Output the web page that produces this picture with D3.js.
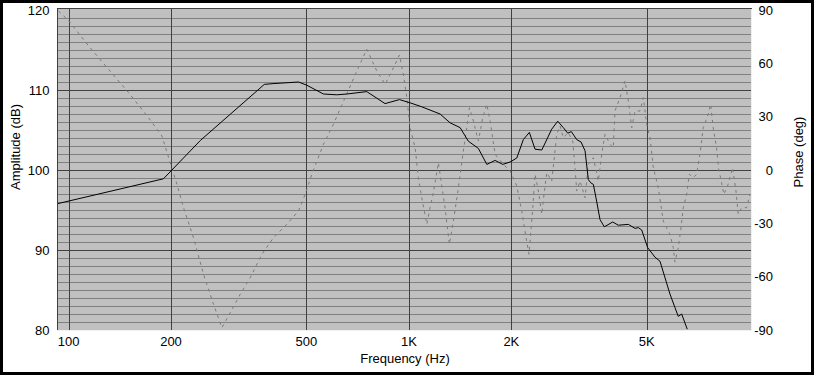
<!DOCTYPE html>
<html>
<head>
<meta charset="utf-8">
<script src="https://cdn.jsdelivr.net/npm/d3@7"></script>
<style>
  body { margin: 0; background: #fff; }
  svg text { font-family: "Liberation Sans", Arial, sans-serif; font-size: 13px; fill: #000; }
</style>
</head>
<body>
<script>
// amplitude response (solid black)
var ampFreq = [93, 190, 244, 376, 399, 474, 501, 561, 614, 657,
  752, 851, 938, 1008, 1091, 1235, 1321, 1414, 1495, 1600,
  1694, 1792, 1887, 1983, 2075, 2169, 2259, 2348, 2457, 2628,
  2737, 2842, 2929, 3001, 3113, 3205, 3293, 3367, 3422, 3483,
  3547, 3644, 3751, 3970, 4123, 4413, 4618, 4721, 4831, 5030,
  5285, 5467, 5849, 6050, 6187, 6331, 6575];
var ampDb = [95.8, 98.9, 103.7, 110.7, 110.8, 111.0, 110.6, 109.5, 109.4, 109.5,
  109.8, 108.3, 108.8, 108.4, 107.9, 107.0, 105.9, 105.3, 103.6, 102.7,
  100.7, 101.2, 100.7, 101.0, 101.5, 103.8, 104.7, 102.6, 102.5, 105.1,
  106.1, 105.3, 104.6, 104.8, 103.8, 103.5, 102.4, 98.8, 98.4, 98.2,
  96.5, 93.8, 92.9, 93.5, 93.1, 93.2, 92.7, 92.8, 92.5, 90.3,
  89.1, 88.6, 84.5, 82.8, 81.7, 82.0, 80.1];

// phase response (dashed grey)
var phaseFreq = [93.4, 99.6, 114.5, 131.1, 150.1, 171.8, 188.1, 198.9, 208.2, 217.7,
  232.9, 249.2, 266.6, 282.2, 298.5, 319.4, 341.7, 369.8, 400, 437.9,
  473.6, 495.6, 518.5, 561, 600, 649.5, 703, 752, 805, 851,
  901, 938, 963, 986, 1008, 1043, 1066, 1091, 1129, 1154,
  1180, 1221, 1249, 1277, 1315, 1351, 1398, 1445, 1479, 1506,
  1547, 1600, 1648, 1694, 1732, 1792, 1895, 1983, 2075, 2146,
  2209, 2254, 2312, 2348, 2401, 2457, 2495, 2541, 2628, 2669,
  2718, 2780, 2842, 2940, 3029, 3077, 3113, 3183, 3293, 3367,
  3483, 3603, 3686, 3769, 3898, 3986, 4032, 4172, 4314, 4413,
  4516, 4618, 4776, 4884, 4998, 5111, 5227, 5405, 5590, 5849,
  5981, 6050, 6187, 6287, 6400, 6548, 6665, 6847, 7006, 7164,
  7326, 7576, 7700, 7836, 8017, 8143, 8238, 8424, 8672, 8934,
  9141, 9282, 9499, 9826, 10046];
var phaseDeg = [89.4, 84.4, 69.8, 56.6, 43.5, 29.4, 19.1, 4.1, -8, -21.2,
  -38.1, -58.7, -75.5, -88.7, -80.3, -69.9, -60.6, -47.4, -38.1, -30.5,
  -23.1, -13.7, -2.4, 14.5, 25.7, 40.7, 55.7, 67.9, 55.7, 48.2,
  57.5, 64.7, 53.8, 40.7, 23.8, 12.5, -4.3, -15.6, -30.5, -21.2,
  -12.8, 4.1, -9, -21.2, -41.8, -28.7, -10, 10.7, 23.8, 35,
  27.6, 16.3, 29.4, 37, 27.6, 8.8, 3.2, -0.6, -9, -23.1,
  -38.1, -47.4, -21.2, -2.4, -11.8, -24.9, -13.7, -1.5, -6.2, 5.1,
  20.1, 24.8, 18.2, 21, 16.3, 1.3, -11.8, -6.2, -15.6, 3.2,
  6.9, -6.2, 8.8, 20.1, 14.5, 12.5, 33.2, 40.7, 50.1, 38.8,
  23.8, 33.2, 33.2, 40.7, 25.7, 18.2, 1.3, -10, -28.7, -36.2,
  -43.7, -51.8, -43.7, -34.3, -21.2, -13.7, -2.4, -4.3, -2.4, 8.8,
  23.8, 31.3, 37, 23.8, 12.5, -0.6, -4.3, -13.7, -8, 1.3,
  -11.8, -24.9, -21.2, -21.2, -13.7];

var freqTicks = [100, 200, 500, 1000, 2000, 5000];
var freqTickLabels = ["100", "200", "500", "1K", "2K", "5K"];
var dbTicks = [80, 90, 100, 110, 120];
var phaseTicks = [90, 60, 30, 0, -30, -60, -90];

var W = 814, H = 375;
var plot = {left: 58, top: 10, right: 751, bottom: 330};

var svg = d3.select("body").append("svg")
    .attr("width", W)
    .attr("height", H);

// outer black frame
svg.append("rect")
    .attr("x", 1.5).attr("y", 1.5)
    .attr("width", W - 3).attr("height", H - 3)
    .attr("fill", "#fff")
    .attr("stroke", "#000")
    .attr("stroke-width", 3);

var x = d3.scaleLog()
    .domain([93.1, 10120])
    .range([plot.left, plot.right]);

var y = d3.scaleLinear()
    .domain([80, 120])
    .range([plot.bottom, plot.top]);

var yPhase = d3.scaleLinear()
    .domain([-90, 90])
    .range([plot.bottom, plot.top]);

function px(v) { return Math.round(v) + 0.5; }

svg.append("rect")
    .attr("x", plot.left).attr("y", plot.top - 1)
    .attr("width", plot.right - plot.left).attr("height", plot.bottom - plot.top + 1)
    .attr("fill", "#c0c0c0");

var grid = svg.append("g").attr("shape-rendering", "crispEdges");

// minor dB lines, every 1 dB
grid.selectAll(".minor")
    .data(y.ticks(40).filter(function(d) { return d % 10 !== 0; }))
  .enter().append("line")
    .attr("class", "minor")
    .attr("x1", plot.left).attr("x2", plot.right)
    .attr("y1", function(d) { return px(y(d)); })
    .attr("y2", function(d) { return px(y(d)); })
    .attr("stroke", "#808080");

// major dB lines
grid.selectAll(".major")
    .data(dbTicks.slice(1, -1))
  .enter().append("line")
    .attr("class", "major")
    .attr("x1", plot.left).attr("x2", plot.right)
    .attr("y1", function(d) { return px(y(d)); })
    .attr("y2", function(d) { return px(y(d)); })
    .attr("stroke", "#404040");

// frequency lines
grid.selectAll(".vline")
    .data(freqTicks)
  .enter().append("line")
    .attr("class", "vline")
    .attr("x1", function(d) { return px(x(d)); })
    .attr("x2", function(d) { return px(x(d)); })
    .attr("y1", plot.top - 1).attr("y2", plot.bottom)
    .attr("stroke", "#404040");

svg.append("clipPath").attr("id", "clip")
  .append("rect")
    .attr("x", plot.left).attr("y", plot.top - 1)
    .attr("width", plot.right - plot.left).attr("height", plot.bottom - plot.top + 1);

var phaseLine = d3.line()
    .x(function(d) { return x(d[0]); })
    .y(function(d) { return yPhase(d[1]); });

var ampLine = d3.line()
    .x(function(d) { return x(d[0]); })
    .y(function(d) { return y(d[1]); });

svg.append("path")
    .datum(d3.zip(phaseFreq, phaseDeg))
    .attr("clip-path", "url(#clip)")
    .attr("d", phaseLine)
    .attr("fill", "none")
    .attr("stroke", "#7a7a7a")
    .attr("stroke-width", 1)
    .attr("stroke-dasharray", "3,4");

svg.append("path")
    .datum(d3.zip(ampFreq, ampDb))
    .attr("clip-path", "url(#clip)")
    .attr("d", ampLine)
    .attr("fill", "none")
    .attr("stroke", "#000")
    .attr("stroke-width", 1);

// sunken frame around plot
var frame = svg.append("g").attr("shape-rendering", "crispEdges");
frame.append("path")
    .attr("d", "M" + (plot.left - 0.5) + "," + (plot.bottom + 1) + "V" + (plot.top - 1.5) + "H" + (plot.right + 1))
    .attr("fill", "none").attr("stroke", "#404040");
frame.append("path")
    .attr("d", "M" + (plot.left - 1) + "," + (plot.bottom + 0.5) + "H" + (plot.right + 0.5) + "V" + (plot.top - 1.5))
    .attr("fill", "none").attr("stroke", "#f0f0f0");

// left axis labels
svg.selectAll(".dbLabel")
    .data(dbTicks)
  .enter().append("text")
    .attr("class", "dbLabel")
    .attr("x", 49.5)
    .attr("y", function(d) { return y(d); })
    .attr("dy", "0.36em")
    .style("text-anchor", "end")
    .text(function(d) { return d; });

// right axis labels
svg.selectAll(".phLabel")
    .data(phaseTicks)
  .enter().append("text")
    .attr("class", "phLabel")
    .attr("x", 773)
    .attr("y", function(d) { return yPhase(d); })
    .attr("dy", "0.36em")
    .style("text-anchor", "end")
    .text(function(d) { return d; });

// bottom axis labels
svg.selectAll(".fLabel")
    .data(freqTicks)
  .enter().append("text")
    .attr("class", "fLabel")
    .attr("x", function(d) { return x(d); })
    .attr("y", 345.5)
    .style("text-anchor", "middle")
    .text(function(d, i) { return freqTickLabels[i]; });

svg.append("text")
    .attr("transform", "translate(20,147) rotate(-90)")
    .style("text-anchor", "middle")
    .text("Amplitude (dB)");

svg.append("text")
    .attr("transform", "translate(803,152) rotate(-90)")
    .style("text-anchor", "middle")
    .text("Phase (deg)");

svg.append("text")
    .attr("x", 405)
    .attr("y", 363)
    .style("text-anchor", "middle")
    .text("Frequency (Hz)");
</script>
</body>
</html>
